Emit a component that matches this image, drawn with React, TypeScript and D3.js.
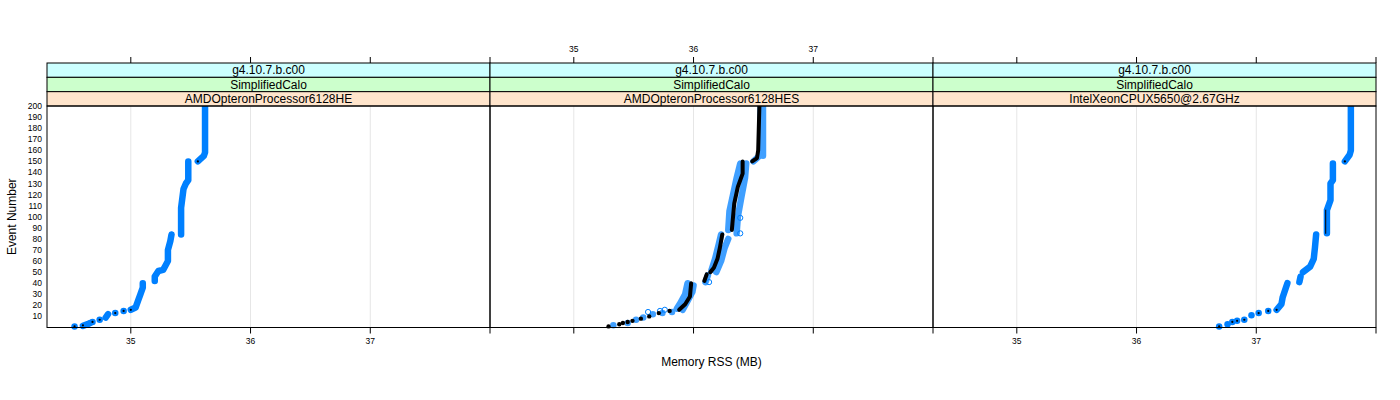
import React from 'react';
import * as d3 from 'd3';

// ---------- data ----------
const stripLine1 = ['g4.10.7.b.c00', 'g4.10.7.b.c00', 'g4.10.7.b.c00'];
const stripLine2 = ['SimplifiedCalo', 'SimplifiedCalo', 'SimplifiedCalo'];
const stripLine3 = ['AMDOpteronProcessor6128HE', 'AMDOpteronProcessor6128HES', 'IntelXeonCPUX5650@2.67GHz'];
const xTicks = [35, 36, 37, 38];
const xTickLabels = ['35', '36', '37', ''];
const yTicks = [10, 20, 30, 40, 50, 60, 70, 80, 90, 100, 110, 120, 130, 140, 150, 160, 170, 180, 190, 200];
const xDomain = [34.3, 38.0];
const yDomain = [0, 200];

type Pt = [number, number]; // [memory MB, event number]
type Run = Pt[];

// Panel 1: AMDOpteronProcessor6128HE
const blue1: Run[] = [
  [[34.53, 1]],
  [[34.6, 1.5], [34.64, 3], [34.66, 4]],
  [[34.68, 5]],
  [[34.74, 7]],
  [[34.79, 9], [34.81, 12]],
  [[34.87, 13]],
  [[34.94, 15]],
  [[35.0, 16], [35.04, 18], [35.06, 24], [35.08, 30], [35.1, 36], [35.1, 40]],
  [[35.2, 42], [35.2, 46], [35.23, 51], [35.27, 52], [35.29, 56], [35.31, 60], [35.31, 70], [35.33, 78], [35.34, 84]],
  [[35.42, 84], [35.42, 108], [35.44, 125], [35.46, 130], [35.48, 133], [35.48, 150]],
  [[35.56, 150], [35.58, 152], [35.61, 155], [35.62, 158], [35.62, 200]],
];
const black1: Run[] = [
  [[34.53, 1]], [[34.6, 2]], [[34.68, 5]], [[34.74, 7]], [[34.87, 13]], [[34.94, 15]], [[35.0, 16]], [[35.56, 150]],
];
const open1: Pt[] = [];

// Panel 2: AMDOpteronProcessor6128HES
const blue2: Run[] = [
  [[35.33, 2]], [[35.45, 4]], [[35.52, 7]], [[35.58, 9]], [[35.66, 12]], [[35.74, 13]], [[35.82, 14]],
  [[35.86, 17], [35.89, 22], [35.93, 30], [35.95, 40]],
  [[35.91, 16], [35.95, 24], [35.99, 32], [36.0, 38]],
  [[36.1, 41], [36.12, 47]],
  [[36.15, 52], [36.18, 62], [36.21, 75], [36.23, 84]],
  [[36.19, 50], [36.23, 60], [36.26, 72], [36.29, 80]],
  [[36.29, 88], [36.3, 105], [36.33, 120], [36.36, 135], [36.39, 148]],
  [[36.36, 85], [36.37, 100], [36.4, 118], [36.43, 135], [36.44, 148]],
  [[36.5, 150], [36.55, 155], [36.56, 160], [36.56, 200]],
  [[36.58, 155], [36.58, 200]],
];
const black2: Run[] = [
  [[35.29, 1]], [[35.38, 3]], [[35.41, 4]], [[35.45, 5]], [[35.49, 6]], [[35.56, 8]], [[35.63, 10]], [[35.71, 13]], [[35.8, 15]],
  [[35.88, 16], [35.93, 21], [35.97, 28], [35.98, 40]],
  [[36.09, 42], [36.11, 48]],
  [[36.14, 50], [36.17, 54], [36.2, 62], [36.22, 72], [36.24, 84]],
  [[36.32, 88], [36.33, 100], [36.34, 112], [36.37, 127], [36.41, 139], [36.41, 150]],
  [[36.49, 150], [36.53, 153], [36.54, 160], [36.55, 200]],
];
const open2: Pt[] = [[35.62, 14], [35.72, 15], [35.76, 16], [36.13, 41], [36.39, 99], [36.39, 85]];

// Panel 3: IntelXeonCPUX5650@2.67GHz
const blue3: Run[] = [
  [[36.69, 1]], [[36.76, 3]], [[36.8, 5]], [[36.84, 6]], [[36.9, 7]], [[36.96, 11]], [[37.02, 13]], [[37.1, 15]],
  [[37.17, 16], [37.21, 21], [37.22, 27], [37.26, 40]],
  [[37.36, 41], [37.37, 46]],
  [[37.39, 50], [37.45, 55], [37.48, 62], [37.49, 72], [37.5, 84]],
  [[37.59, 85], [37.59, 106], [37.62, 115], [37.62, 130], [37.64, 133], [37.64, 148]],
  [[37.74, 150], [37.78, 156], [37.79, 160], [37.79, 200]],
];
const black3: Run[] = [
  [[36.69, 1]], [[36.8, 5]], [[36.84, 6]], [[36.9, 7]], [[37.02, 13]], [[37.1, 15]], [[37.17, 16]],
  [[37.58, 85], [37.58, 106]],
  [[37.74, 150]],
];
const open3: Pt[] = [];

const bluePanels = [blue1, blue2, blue3];
const blackPanels = [black1, black2, black3];
const openPanels = [open1, open2, open3];

// ---------- layout ----------
const W = 1400;
const H = 400;
const left = 47;
const panelW = 443;
const plotTop = 106;
const plotBottom = 327.5;
const stripTop = 63;
const stripH = (plotTop - stripTop) / 3;
const stripColors = ['#CCFFFF', '#CCFFCC', '#FFE5CC'];
const BLUE = '#0080ff';
const FONT = 'Liberation Sans, Arial, Helvetica, sans-serif';

const y = d3.scaleLinear().domain(yDomain).range([plotBottom, plotTop]);
const lineGen = d3.line<Pt>();

function Panel({ i }: { i: number }) {
  const x0 = left + i * panelW;
  const x = d3.scaleLinear().domain(xDomain).range([x0, x0 + panelW]);
  lineGen.x((d) => x(d[0])).y((d) => y(d[1]));
  const thick = i === 1;
  const blueW = 6.5;
  const blackW = thick ? 4 : 1;
  const blackR = thick ? 2.2 : 1.1;
  const stripTexts = [stripLine1[i], stripLine2[i], stripLine3[i]];
  return (
    <g>
      {xTicks.slice(0, 3).map((t) => (
        <line key={'g' + t} x1={x(t)} x2={x(t)} y1={plotTop} y2={plotBottom} stroke="#e6e6e6" strokeWidth={1} />
      ))}
      <g opacity={thick ? 0.75 : 1}>
        {bluePanels[i].map((run, k) =>
          run.length === 1 ? (
            <circle key={'b' + k} cx={x(run[0][0])} cy={y(run[0][1])} r={blueW / 2} fill={BLUE} />
          ) : (
            <path key={'b' + k} d={lineGen(run) || ''} fill="none" stroke={BLUE} strokeWidth={blueW}
              strokeLinecap="round" strokeLinejoin="round" />
          )
        )}
      </g>
      {openPanels[i].map((p, k) => (
        <circle key={'o' + k} cx={x(p[0])} cy={y(p[1])} r={2.6} fill="#fff" fillOpacity={0} stroke={BLUE} strokeWidth={1} />
      ))}
      {blackPanels[i].map((run, k) =>
        run.length === 1 ? (
          <circle key={'k' + k} cx={x(run[0][0])} cy={y(run[0][1])} r={blackR} fill="#000" />
        ) : (
          <path key={'k' + k} d={lineGen(run) || ''} fill="none" stroke="#000" strokeWidth={blackW}
            strokeLinecap="round" strokeLinejoin="round" />
        )
      )}
      {stripTexts.map((s, k) => (
        <g key={'s' + k}>
          <rect x={x0} y={stripTop + k * stripH} width={panelW} height={stripH} fill={stripColors[k]}
            stroke="#000" strokeWidth={1} />
          <text x={x0 + panelW / 2} y={stripTop + k * stripH + stripH / 2} dy="0.36em" textAnchor="middle"
            fontFamily={FONT} fontSize={12}>{s}</text>
        </g>
      ))}
      <rect x={x0} y={plotTop} width={panelW} height={plotBottom - plotTop} fill="none" stroke="#000" strokeWidth={1} />
      {xTicks.map((t, k) => (
        <g key={'tt' + t}>
          <line x1={x(t)} x2={x(t)} y1={stripTop} y2={stripTop - 6} stroke="#000" strokeWidth={1} />
          {i === 1 && xTickLabels[k] && (
            <text x={x(t)} y={49} dy="0.35em" textAnchor="middle" fontFamily={FONT} fontSize={8.5}>{xTickLabels[k]}</text>
          )}
        </g>
      ))}
      {xTicks.map((t, k) => (
        <g key={'bt' + t}>
          <line x1={x(t)} x2={x(t)} y1={plotBottom} y2={plotBottom + 6} stroke="#000" strokeWidth={1} />
          {i !== 1 && xTickLabels[k] && (
            <text x={x(t)} y={341} dy="0.35em" textAnchor="middle" fontFamily={FONT} fontSize={8.5}>{xTickLabels[k]}</text>
          )}
        </g>
      ))}
    </g>
  );
}

export default function App() {
  return (
    <svg width={W} height={H} style={{ position: 'absolute', left: 0, top: 0, background: '#fff' }}>
      <rect width={W} height={H} fill="#fff" />
      {[0, 1, 2].map((i) => <Panel key={i} i={i} />)}
      {yTicks.map((t) => (
        <text key={'y' + t} x={42} y={y(t)} dy="0.35em" textAnchor="end" fontFamily={FONT} fontSize={8.5}>{t}</text>
      ))}
      <text transform={`translate(12,${(plotTop + plotBottom) / 2}) rotate(-90)`} textAnchor="middle" dy="0.35em"
        fontFamily={FONT} fontSize={12}>Event Number</text>
      <text x={left + (panelW * 3) / 2} y={362} dy="0.35em" textAnchor="middle" fontFamily={FONT} fontSize={12}>
        Memory RSS (MB)
      </text>
    </svg>
  );
}
